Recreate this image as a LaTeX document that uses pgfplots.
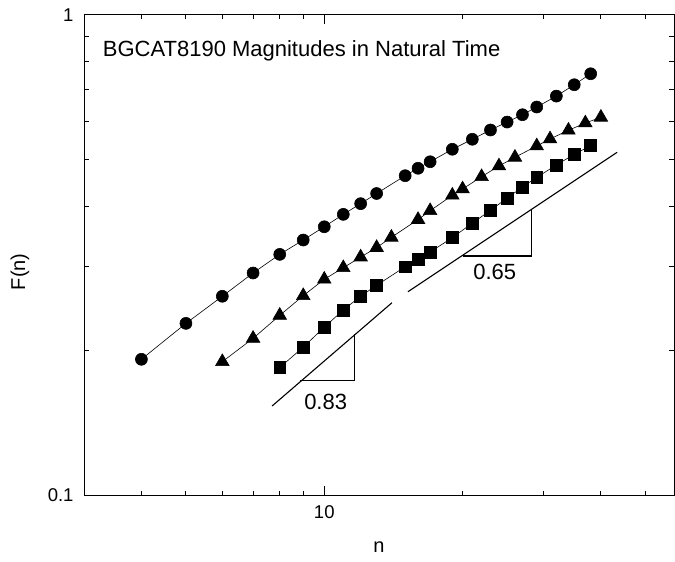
\documentclass[border=0pt]{standalone}
\usepackage{pgfplots}
\pgfplotsset{compat=1.18}
\usepackage{fontspec}
\setmainfont{Liberation Sans}

\pgfplotstableread{
n    F
4    0.1919
5    0.2279
6    0.2595
7    0.2901
8    0.3172
9    0.3398
10   0.3621
11   0.3843
12   0.4044
13   0.4246
15   0.4624
16   0.4791
17   0.4944
19   0.5248
21   0.5506
23   0.5756
25   0.5980
27   0.6193
29   0.6426
32   0.6772
35   0.7150
38   0.7536
}\circles

\pgfplotstableread{
n    F
6    0.1897
7    0.2121
8    0.2368
9    0.2602
10   0.2815
11   0.2975
12   0.3131
13   0.3277
14   0.3442
16   0.3748
17   0.3910
19   0.4210
20   0.4339
22   0.4602
24   0.4844
26   0.5050
29   0.5332
31   0.5514
34   0.5748
37   0.5952
40   0.6116
}\triangles

\pgfplotstableread{
n    F
8    0.1845
9    0.2033
10   0.2238
11   0.2429
12   0.2596
13   0.2735
15   0.2990
16   0.3098
17   0.3208
19   0.3436
21   0.3685
23   0.3917
25   0.4154
27   0.4379
29   0.4587
32   0.4867
35   0.5123
38   0.5339
}\squares

\begin{document}
\begin{tikzpicture}
\useasboundingbox (-84pt,-66.7pt) rectangle (591pt,495.3pt);
\begin{axis}[
    at={(0,0)}, anchor=south west,
    scale only axis,
    width=590pt, height=480.6pt,
    xmode=log, ymode=log,
    xmin=3, xmax=57.7,
    ymin=0.1, ymax=1,
    xtick={10}, xticklabels={10},
    ytick={0.1,1}, yticklabels={0.1,1},
    minor xtick={4,5,6,7,8,9,20,30,40,50},
    minor ytick={0.2,0.3,0.4,0.5,0.6,0.7,0.8,0.9},
    tick align=inside,
    major tick length=9.3pt,
    minor tick length=4.7pt,
    every tick/.style={black, line width=0.9pt},
    axis line style={line width=1pt},
    ticklabel style={font=\fontsize{18.5}{18.5}\selectfont},
    xticklabel style={yshift=-7pt},
    yticklabel style={xshift=-7pt},
    xlabel={n},
    ylabel={F(n)},
    label style={font=\fontsize{20}{20}\selectfont},
    xlabel style={at={(rel axis cs:0.5,0)}, anchor=center, yshift=-52pt},
    ylabel style={at={(rel axis cs:-0.1085,0.465)}, anchor=center},
    clip=false,
]
\addplot[black, line width=0.6pt, mark=*, mark size=6pt, mark options={solid}]
    table[x=n, y=F] {\circles};
\addplot[black, line width=0.6pt, mark=triangle*, mark size=7.8pt, mark options={solid}]
    table[x=n, y=F] {\triangles};
\addplot[black, line width=0.6pt, mark=square*, mark size=5.9pt, mark options={solid}]
    table[x=n, y=F] {\squares};
% slope 0.83
\addplot[black, line width=1.1pt, no marks] coordinates {(7.70,0.1534) (14.04,0.2516)};
\addplot[black, line width=1.1pt, no marks] coordinates {(8.866,0.1732) (11.66,0.1732) (11.66,0.2166)};
\node[font=\fontsize{22}{22}\selectfont] at (axis cs:10.07,0.1566) {0.83};
% slope 0.65
\addplot[black, line width=1.1pt, no marks] coordinates {(15.21,0.2652) (43.4,0.5173)};
\addplot[black, line width=1.1pt, no marks] coordinates {(20.05,0.3147) (28.29,0.3147) (28.29,0.3923)};
\node[font=\fontsize{22}{22}\selectfont] at (axis cs:23.5,0.2911) {0.65};
\node[anchor=base west, inner sep=0pt, font=\fontsize{22}{22}\selectfont]
    at (rel axis cs:0.0317,0.914) {BGCAT8190 Magnitudes in Natural Time};
\end{axis}
\end{tikzpicture}
\end{document}
